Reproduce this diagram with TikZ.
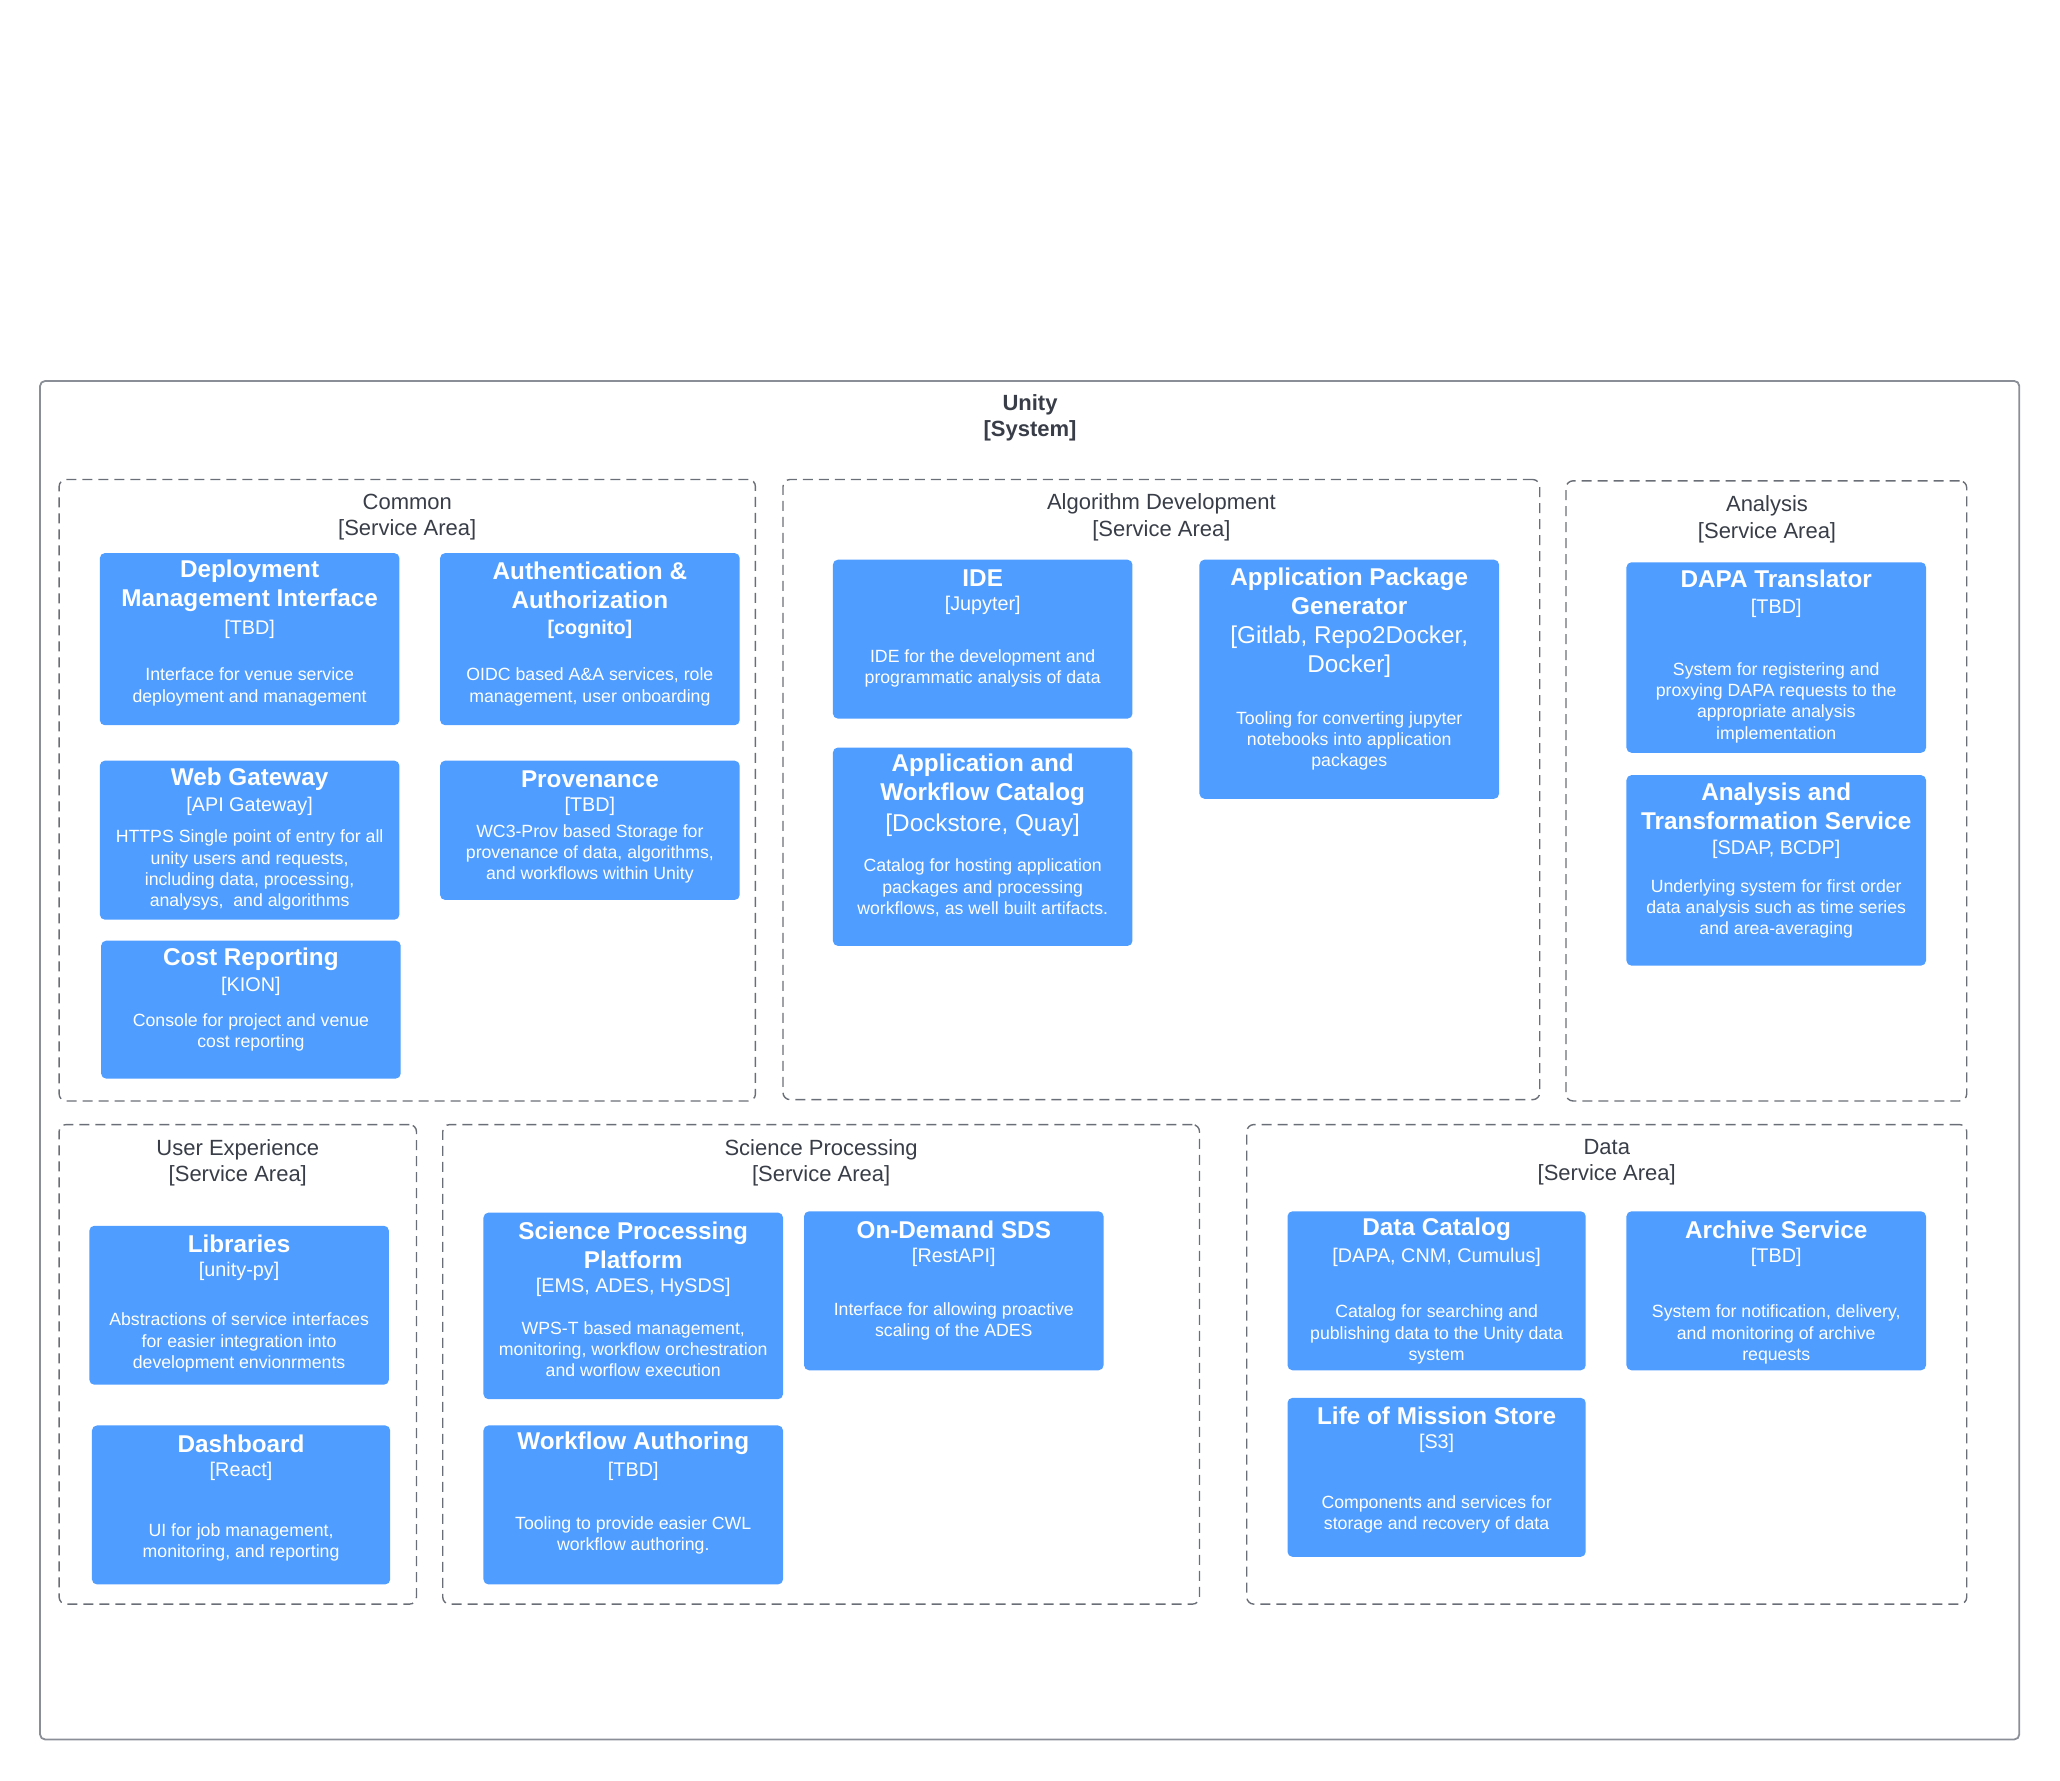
\documentclass[tikz,border=0pt]{standalone}
\usepackage{fontspec}
\setmainfont{Liberation Sans}
\usetikzlibrary{fit}

\definecolor{svcblue}{HTML}{4F9DFF}
\definecolor{labelgray}{HTML}{383D47}
\definecolor{dashgray}{HTML}{6A6E76}
\definecolor{framegray}{HTML}{8A8E96}

\tikzset{
  svcbox/.style={fill=svcblue, draw=none, rounded corners=5pt, inner sep=0pt},
  areabox/.style={draw=dashgray, line width=1.4pt, dash pattern=on 10pt off 6pt, rounded corners=7pt, inner sep=0pt},
  sysbox/.style={draw=framegray, line width=1.8pt, rounded corners=5pt, inner sep=0pt},
  txt/.style={align=center, inner sep=0pt, yshift=-2.4pt},
  svctitle/.style={txt, text=white, font=\fontsize{24.3}{29}\selectfont\bfseries},
  svctech/.style={txt, text=white, font=\fontsize{19.8}{24}\selectfont},
  svctechbig/.style={txt, text=white, font=\fontsize{24.3}{29}\selectfont},
  svcdesc/.style={txt, text=white, font=\fontsize{17.7}{21.3}\selectfont},
  arealabel/.style={txt, text=labelgray, font=\fontsize{22}{26.3}\selectfont},
  syslabel/.style={txt, text=labelgray, font=\fontsize{22}{26.3}\selectfont\bfseries},
}

\begin{document}
\begin{tikzpicture}[x=1.3138pt, y=-1.3138pt]
\useasboundingbox (0,0) rectangle (1568,1355);

% System boundary
\node[sysbox, fit={(30.5,290)(1537,1324)}] (unity) {};
\node[syslabel] (unity-l) at (784,316) {Unity\\{}[System]};

% Service areas
\node[areabox, fit={(45,365)(575,838)}] (common) {};
\node[arealabel] (common-l) at (310,392) {Common\\{}[Service Area]};
\node[areabox, fit={(596,365)(1172,837)}] (algdev) {};
\node[arealabel] (algdev-l) at (884,392) {Algorithm Development\\{}[Service Area]};
\node[areabox, fit={(1192,366)(1497,838)}] (analysis) {};
\node[arealabel] (analysis-l) at (1345,393.5) {Analysis\\{}[Service Area]};
\node[areabox, fit={(45,856)(317,1221)}] (ux) {};
\node[arealabel] (ux-l) at (181,883) {User Experience\\{}[Service Area]};
\node[areabox, fit={(337,856)(913,1221)}] (sciproc) {};
\node[arealabel] (sciproc-l) at (625,883) {Science Processing\\{}[Service Area]};
\node[areabox, fit={(949,856)(1497,1221)}] (data) {};
\node[arealabel] (data-l) at (1223,883) {Data\\{}[Service Area]};

% Common
\node[svcbox, fit={(76,421)(304,552)}] (dmi) {};
\node[svctitle] (dmi-t) at (190,444) {Deployment\\Management Interface};
\node[svctech] (dmi-k) at (190,477) {[TBD]};
\node[svcdesc] (dmi-d) at (190,521) {Interface for venue service\\deployment and management};

\node[svcbox, fit={(335,421)(563,552)}] (auth) {};
\node[svctitle] (auth-t) at (449,444) {Authentication \&\\Authorization};
\node[svctech, font=\fontsize{19.8}{24}\selectfont\bfseries] (auth-k) at (449,477) {[cognito]};
\node[svcdesc] (auth-d) at (449,521) {OIDC based A\&A services, role\\management, user onboarding};

\node[svcbox, fit={(76,579)(304,700)}] (web) {};
\node[svctitle] (web-t) at (190,591) {Web Gateway};
\node[svctech] (web-k) at (190,612) {[API Gateway]};
\node[svcdesc] (web-d) at (190,660.5) {HTTPS Single point of entry for all\\unity users and requests,\\including data, processing,\\analysys,\ \ and algorithms};

\node[svcbox, fit={(335,579)(563,685)}] (prov) {};
\node[svctitle] (prov-t) at (449,591) {Provenance};
\node[svctech] (prov-k) at (449,612) {[TBD]};
\node[svcdesc] (prov-d) at (449,648) {WC3-Prov based Storage for\\provenance of data, algorithms,\\and workflows within Unity};

\node[svcbox, fit={(77,716)(305,821)}] (cost) {};
\node[svctitle] (cost-t) at (191,728) {Cost Reporting};
\node[svctech] (cost-k) at (191,749) {[KION]};
\node[svcdesc] (cost-d) at (191,784) {Console for project and venue\\cost reporting};

% Algorithm Development
\node[svcbox, fit={(634,426)(862,547)}] (ide) {};
\node[svctitle] (ide-t) at (748,438) {IDE};
\node[svctech] (ide-k) at (748,459) {[Jupyter]};
\node[svcdesc] (ide-d) at (748,507) {IDE for the development and\\programmatic analysis of data};

\node[svcbox, fit={(634,569)(862,720)}] (awc) {};
\node[svctitle] (awc-t) at (748,592) {Application and\\Workflow Catalog};
\node[svctechbig] (awc-k) at (748,626) {[Dockstore, Quay]};
\node[svcdesc] (awc-d) at (748,674) {Catalog for hosting application\\packages and processing\\workflows, as well built artifacts.};

\node[svcbox, fit={(913,426)(1141,608)}] (apg) {};
\node[svctitle] (apg-t) at (1027,448) {Application Package\\Generator};
\node[svctechbig] (apg-k) at (1027,494) {[Gitlab, Repo2Docker,\\Docker]};
\node[svcdesc] (apg-d) at (1027,562) {Tooling for converting jupyter\\notebooks into application\\packages};

% Analysis
\node[svcbox, fit={(1238,428)(1466,573)}] (dapa) {};
\node[svctitle] (dapa-t) at (1352,439) {DAPA Translator};
\node[svctech] (dapa-k) at (1352,461) {[TBD]};
\node[svcdesc] (dapa-d) at (1352,533) {System for registering and\\proxying DAPA requests to the\\appropriate analysis\\implementation};

\node[svcbox, fit={(1238,590)(1466,735)}] (ats) {};
\node[svctitle] (ats-t) at (1352,612) {Analysis and\\Transformation Service};
\node[svctech] (ats-k) at (1352,645) {[SDAP, BCDP]};
\node[svcdesc] (ats-d) at (1352,690) {Underlying system for first order\\data analysis such as time series\\and area-averaging};

% User Experience
\node[svcbox, fit={(68,933)(296,1054)}] (lib) {};
\node[svctitle] (lib-t) at (182,945) {Libraries};
\node[svctech] (lib-k) at (182,966) {[unity-py]};
\node[svcdesc] (lib-d) at (182,1020) {Abstractions of service interfaces\\for easier integration into\\development envionrments};

\node[svcbox, fit={(70,1085)(297,1206)}] (dash) {};
\node[svctitle] (dash-t) at (183.5,1097) {Dashboard};
\node[svctech] (dash-k) at (183.5,1118) {[React]};
\node[svcdesc] (dash-d) at (183.5,1172) {UI for job management,\\monitoring, and reporting};

% Science Processing
\node[svcbox, fit={(368,923)(596,1065)}] (spp) {};
\node[svctitle] (spp-t) at (482,946) {Science Processing\\Platform};
\node[svctech] (spp-k) at (482,978) {[EMS, ADES, HySDS]};
\node[svcdesc] (spp-d) at (482,1025) {WPS-T based management,\\monitoring, workflow orchestration\\and worflow execution};

\node[svcbox, fit={(612,922)(840,1043)}] (ods) {};
\node[svctitle] (ods-t) at (726,934) {On-Demand SDS};
\node[svctech] (ods-k) at (726,955) {[RestAPI]};
\node[svcdesc] (ods-d) at (726,1004) {Interface for allowing proactive\\scaling of the ADES};

\node[svcbox, fit={(368,1085)(596,1206)}] (wfa) {};
\node[svctitle] (wfa-t) at (482,1097) {Workflow Authoring};
\node[svctech] (wfa-k) at (482,1118) {[TBD]};
\node[svcdesc] (wfa-d) at (482,1167) {Tooling to provide easier CWL\\workflow authoring.};

% Data
\node[svcbox, fit={(980,922)(1207,1043)}] (dcat) {};
\node[svctitle] (dcat-t) at (1093.5,934) {Data Catalog};
\node[svctech] (dcat-k) at (1093.5,955) {[DAPA, CNM, Cumulus]};
\node[svcdesc] (dcat-d) at (1093.5,1014) {Catalog for searching and\\publishing data to the Unity data\\system};

\node[svcbox, fit={(1238,922)(1466,1043)}] (arch) {};
\node[svctitle] (arch-t) at (1352,934) {Archive Service};
\node[svctech] (arch-k) at (1352,955) {[TBD]};
\node[svcdesc] (arch-d) at (1352,1014) {System for notification, delivery,\\and monitoring of archive\\requests};

\node[svcbox, fit={(980,1064)(1207,1185)}] (lms) {};
\node[svctitle] (lms-t) at (1093.5,1076) {Life of Mission Store};
\node[svctech] (lms-k) at (1093.5,1097) {[S3]};
\node[svcdesc] (lms-d) at (1093.5,1151) {Components and services for\\storage and recovery of data};
\end{tikzpicture}
\end{document}
